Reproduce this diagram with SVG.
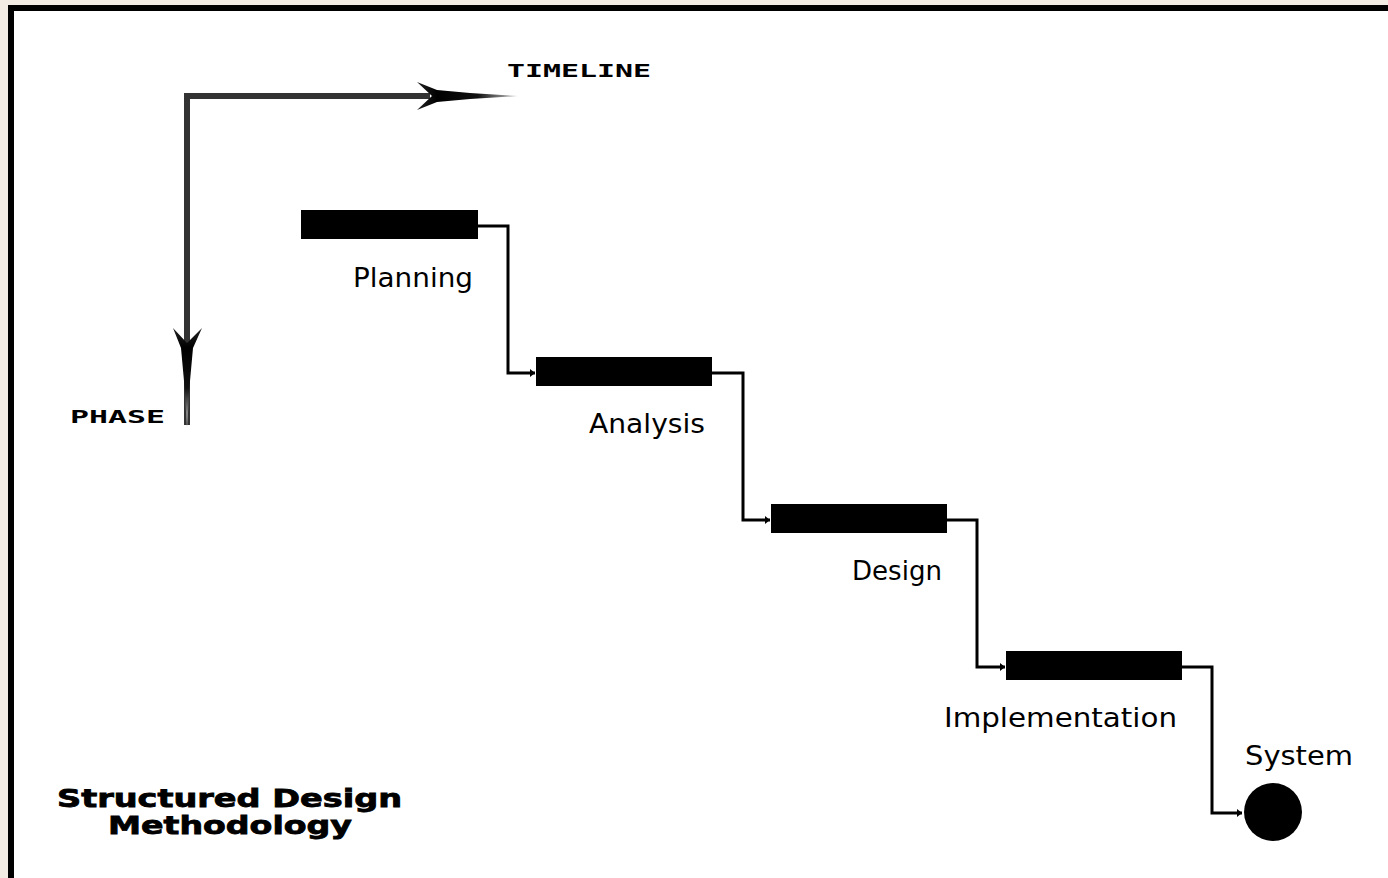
<svg xmlns="http://www.w3.org/2000/svg" width="1388" height="878" viewBox="0 0 1388 878">
<defs>
<style>
.bar{fill:#000}
.conn{fill:none;stroke:#000;stroke-width:3;stroke-linejoin:miter}
.lbl{font-family:"DejaVu Sans","Liberation Sans",sans-serif;font-size:26px;fill:#000}
.axl{font-family:"DejaVu Sans Mono","Liberation Mono",monospace;font-weight:bold;font-size:17px;fill:#000}
.ttl{font-family:"DejaVu Sans","Liberation Sans",sans-serif;font-weight:900;font-size:25px;fill:#000;stroke:#000;stroke-width:0.8}
</style>
<linearGradient id="gh" x1="417" y1="0" x2="518" y2="0" gradientUnits="userSpaceOnUse">
<stop offset="0" stop-color="#222"/><stop offset="0.2" stop-color="#000"/><stop offset="0.6" stop-color="#111"/><stop offset="1" stop-color="#ccc"/>
</linearGradient>
<linearGradient id="gv" x1="0" y1="328" x2="0" y2="428" gradientUnits="userSpaceOnUse">
<stop offset="0" stop-color="#222"/><stop offset="0.2" stop-color="#000"/><stop offset="0.6" stop-color="#111"/><stop offset="1" stop-color="#ccc"/>
</linearGradient>
<marker id="tick" markerWidth="6" markerHeight="10" refX="5" refY="5" orient="auto" markerUnits="userSpaceOnUse">
<path d="M0,1 L5,5 L0,9 Z" fill="#000"/>
</marker>
</defs>
<rect x="0" y="0" width="1388" height="878" fill="#F3ECE5"/>
<rect x="8" y="5" width="1380" height="873" fill="#000"/>
<rect x="14" y="11" width="1374" height="867" fill="#fff"/>

<g id="axes">
<path d="M187,425 L187,96 L430,96" fill="none" stroke="#333" stroke-width="6"/>
<polygon points="417,82 437,90 470,93 518,96 470,99 437,102 417,110 432,96" fill="url(#gh)"/>
<polygon points="173,328 181,348 184,381 187,428 190,381 193,348 202,328 187,343" fill="url(#gv)"/>
<text class="axl" x="507" y="77" textLength="144" lengthAdjust="spacingAndGlyphs">TIMELINE</text>
<text class="axl" x="70" y="423" textLength="95" lengthAdjust="spacingAndGlyphs">PHASE</text>
</g>

<g id="connectors">
<path class="conn" d="M478,226 H508 V373 H535" marker-end="url(#tick)"/>
<path class="conn" d="M712,373 H743 V520 H770" marker-end="url(#tick)"/>
<path class="conn" d="M947,520 H977 V667 H1005" marker-end="url(#tick)"/>
<path class="conn" d="M1182,667 H1212 V813 H1242" marker-end="url(#tick)"/>
</g>

<g id="planning">
<rect class="bar" x="301" y="210" width="177" height="29"/>
<text class="lbl" x="353" y="287" textLength="120" lengthAdjust="spacingAndGlyphs">Planning</text>
</g>
<g id="analysis">
<rect class="bar" x="536" y="357" width="176" height="29"/>
<text class="lbl" x="589" y="433" textLength="116" lengthAdjust="spacingAndGlyphs">Analysis</text>
</g>
<g id="design">
<rect class="bar" x="771" y="504" width="176" height="29"/>
<text class="lbl" x="852" y="580" textLength="90" lengthAdjust="spacingAndGlyphs">Design</text>
</g>
<g id="implementation">
<rect class="bar" x="1006" y="651" width="176" height="29"/>
<text class="lbl" x="944" y="727" textLength="233" lengthAdjust="spacingAndGlyphs">Implementation</text>
</g>
<g id="system">
<circle cx="1273" cy="812" r="29" fill="#000"/>
<text class="lbl" x="1245" y="765" textLength="108" lengthAdjust="spacingAndGlyphs">System</text>
</g>

<g id="title">
<text class="ttl" x="57" y="807" textLength="345" lengthAdjust="spacingAndGlyphs">Structured Design</text>
<text class="ttl" x="108" y="834" textLength="244" lengthAdjust="spacingAndGlyphs">Methodology</text>
</g>
</svg>
